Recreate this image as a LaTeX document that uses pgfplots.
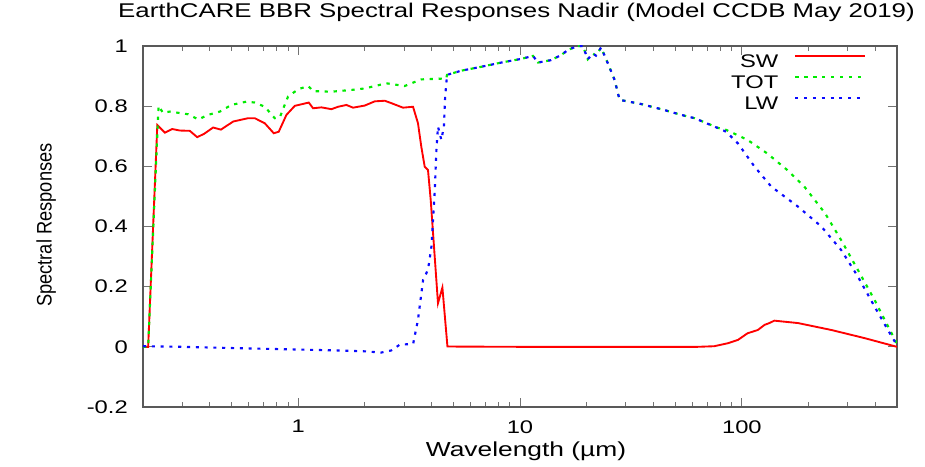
\documentclass[border=0pt]{standalone}
\usepackage{fontspec}
\setmainfont{Liberation Sans}
\usepackage{graphicx}
\usepackage{pgfplots}
\pgfplotsset{compat=1.18}
\newcommand{\hs}[1]{\scalebox{1.3}[1]{#1}}
\definecolor{gpred}{RGB}{255,0,0}
\definecolor{gpgreen}{RGB}{0,235,0}
\definecolor{gpblue}{RGB}{10,10,255}
\begin{document}
\begin{tikzpicture}[font=\fontsize{13.7}{16.4}\selectfont]
\path[use as bounding box] (-107.25pt,-45pt) rectangle (586.5pt,305.25pt);
\begin{axis}[
  scale only axis, width=565.5pt, height=270.75pt,
  xmode=log, xmin=0.2, xmax=500, ymin=-0.2, ymax=1,
  xtick={1,10,100}, xticklabels={\hs{1},\hs{10},\hs{100}},
  minor xtick={0.3,0.4,0.5,0.6,0.7,0.8,0.9,2,3,4,5,6,7,8,9,20,30,40,50,60,70,80,90,200,300,400},
  ytick={-0.2,0,0.2,0.4,0.6,0.8,1},
  yticklabels={\hs{-0.2},\hs{0},\hs{0.2},\hs{0.4},\hs{0.6},\hs{0.8},\hs{1}},
  minor y tick num=0,
  tick align=inside,
  major tick length=6.75pt, minor tick length=3.75pt,
  tick style={color=black!55, line width=0.6pt},
  axis line style={color=black!65, line width=0.9pt},
  xticklabel style={anchor=north, inner sep=0pt, yshift=-9.75pt, font=\fontsize{13.7}{16.4}\selectfont},
  yticklabel style={anchor=east, inner sep=0pt, xshift=-11.25pt, font=\fontsize{13.7}{16.4}\selectfont},
  title={\hs{EarthCARE BBR Spectral Responses Nadir (Model CCDB May 2019)}},
  title style={at={(axis description cs:0.4954,1.0554)}, anchor=base, inner sep=0pt, font=\fontsize{14.9}{17.8}\selectfont},
  xlabel={\hs{Wavelength (µm)}},
  xlabel style={at={(axis description cs:0.508,-0.1377)}, anchor=base, inner sep=0pt, font=\fontsize{15.2}{18}\selectfont},
  ylabel={\scalebox{1}[1.15]{Spectral Responses}},
  ylabel style={at={(axis description cs:-0.1211,0.504)}, anchor=base, inner sep=0pt, font=\fontsize{13.7}{16.4}\selectfont},
  legend plot pos=right,
  legend cell align=right,
  legend image code/.code={\draw[#1] (0pt,4.7pt) -- (52.5pt,4.7pt);},
  legend style={at={(axis description cs:0.9598,0.977)}, anchor=north east,
    draw=none, fill=none, inner sep=0pt, row sep=4.7pt, column sep=12pt,
    nodes={inner sep=0pt}, font=\fontsize{13.7}{16.4}\selectfont},
]
\addplot[color=gpred, line width=1.4pt] coordinates {
(0.2,0) (0.211,0) (0.232,0.737) (0.251,0.712) (0.271,0.724) (0.293,0.719)
(0.325,0.718) (0.351,0.697) (0.377,0.708) (0.414,0.729) (0.449,0.722)
(0.51,0.749) (0.595,0.760) (0.638,0.760) (0.708,0.743) (0.777,0.710)
(0.818,0.715) (0.886,0.771) (0.966,0.801) (1.117,0.812) (1.168,0.793)
(1.274,0.796) (1.413,0.790) (1.514,0.798) (1.651,0.804) (1.769,0.795)
(1.997,0.802) (2.215,0.816) (2.457,0.818) (2.632,0.810) (2.97,0.795)
(3.296,0.798) (3.47,0.743) (3.59,0.666) (3.72,0.599) (3.85,0.588)
(3.96,0.488) (4.27,0.145) (4.47,0.197) (4.71,0.001) (10,0) (63,0)
(75,0.002) (86.5,0.012) (96,0.023) (106,0.045) (118,0.056) (126.5,0.073)
(133,0.079) (140,0.087) (179,0.079) (253,0.056) (357,0.029) (500,0)
};
\addlegendentry{\hs{SW}}
\addplot[color=gpgreen, line width=1.6pt, dash pattern=on 2.5pt off 4.2pt] coordinates {
(0.2,0) (0.211,0) (0.235,0.801) (0.246,0.778) (0.264,0.782) (0.288,0.778)
(0.32,0.773) (0.355,0.756) (0.393,0.771) (0.444,0.782) (0.50,0.804)
(0.585,0.815) (0.638,0.812) (0.708,0.798) (0.785,0.760) (0.827,0.763)
(0.901,0.832) (1.0,0.856) (1.11,0.867) (1.168,0.850) (1.413,0.848)
(1.74,0.854) (2.0,0.859) (2.5,0.876) (3.02,0.867) (3.59,0.889) (4.65,0.892)
(4.69,0.904) (5.44,0.918) (6.7,0.931) (8.24,0.945) (10.1,0.957)
(11.45,0.967) (12.05,0.945) (13.8,0.953) (15.35,0.97) (16.45,0.987)
(18.2,1.0) (19.2,1.0) (20.2,0.956) (21.3,0.975) (22.0,0.968) (23.2,0.995)
(24.9,0.942) (26.7,0.887) (28.1,0.821) (35.2,0.807) (44.8,0.787)
(53.3,0.771) (61.2,0.760) (78,0.728) (85,0.721) (96,0.703) (106,0.688)
(130,0.643) (160,0.588) (191,0.533) (237,0.444) (280,0.355) (333,0.256)
(396,0.156) (440,0.090) (500,0.010)
};
\addlegendentry{\hs{TOT}}
\addplot[color=gpblue, line width=1.6pt, dash pattern=on 2.3pt off 4.3pt] coordinates {
(0.2,0.002) (0.3,0.0) (0.5,-0.004) (1,-0.009) (1.5,-0.012) (2,-0.015)
(2.37,-0.019) (2.63,-0.012) (2.87,0.007) (3.3,0.01) (3.47,0.09)
(3.66,0.223) (3.85,0.256) (3.99,0.333) (4.13,0.52) (4.2,0.654)
(4.27,0.732) (4.42,0.688) (4.54,0.732) (4.6,0.832) (4.69,0.904)
(5.44,0.918) (6.7,0.931) (8.24,0.945) (10.1,0.957) (11.45,0.967)
(12.05,0.945) (13.8,0.953) (15.35,0.97) (16.45,0.987) (18.2,1.0)
(19.2,1.0) (20.2,0.956) (21.3,0.975) (22.0,0.968) (23.2,0.995)
(24.9,0.942) (26.7,0.887) (28.1,0.821) (35.2,0.807) (44.8,0.787)
(53.3,0.771) (61.2,0.760) (78,0.727) (85,0.715) (96,0.676) (114,0.599)
(135.5,0.533) (179,0.466) (228,0.400) (280,0.322) (333,0.234)
(396,0.134) (455,0.056) (500,0.005)
};
\addlegendentry{\hs{LW}}
\end{axis}
\end{tikzpicture}
\end{document}
